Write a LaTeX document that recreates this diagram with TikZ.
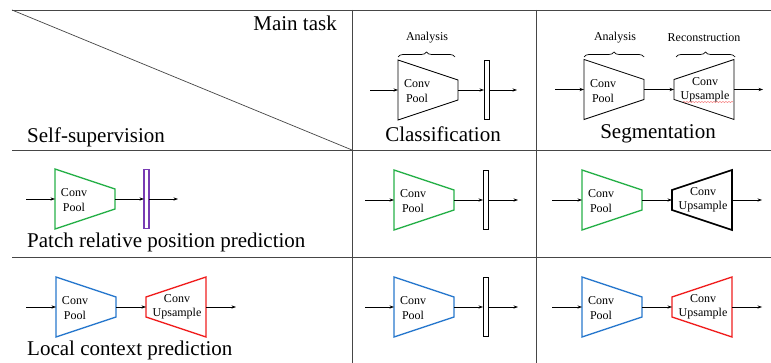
\documentclass[tikz,border=0pt]{standalone}
\usepackage{fontspec}
\setmainfont{Liberation Serif}
\usetikzlibrary{arrows.meta,decorations.pathreplacing,decorations.pathmorphing}
\definecolor{cgreen}{RGB}{38,176,72}
\definecolor{cblue}{RGB}{40,120,205}
\definecolor{cred}{RGB}{240,30,30}
\definecolor{cpurple}{RGB}{120,60,180}
\definecolor{grid}{RGB}{70,70,70}
\tikzset{
  gridline/.style={draw=grid, line width=0.9pt},
  arr/.style={-{Stealth[length=4.5pt,width=3.2pt]}, line width=0.6pt},
  big/.style={font=\fontsize{21}{24}\selectfont, inner sep=0pt},
  small/.style={font=\fontsize{12}{13}\selectfont, inner sep=0pt},
  bracestyle/.style={decorate, decoration={brace, amplitude=5pt}, line width=0.7pt},
  enc/.pic={
    \draw[line join=miter, #1] (0,-30) -- (60,-10) -- (60,10) -- (0,30) -- cycle;
    \coordinate (-in) at (0,0);
    \coordinate (-out) at (60,0);
    \node[small] (-t1) at (19,-6) {Conv};
    \node[small] (-t2) at (19,8.5) {Pool};
  },
  dec/.pic={
    \draw[line join=miter, #1] (0,-10) -- (60,-30) -- (60,30) -- (0,10) -- cycle;
    \coordinate (-in) at (0,0);
    \coordinate (-out) at (60,0);
    \node[small] (-t1) at (31,-8) {Conv};
    \node[small] (-t2) at (31,7) {Upsample};
  },
  bar/.pic={
    \draw[#1] (0,-29.5) rectangle (5,29.5);
    \coordinate (-in) at (0,0);
    \coordinate (-out) at (5,0);
  },
}
\begin{document}
\begin{tikzpicture}[x=1pt,y=-1pt]
\useasboundingbox (0,0) rectangle (771,363);

% grid
\coordinate (tl) at (12,10);
\coordinate (tr) at (771,10);
\coordinate (m1l) at (12,150);
\coordinate (m1r) at (771,150);
\coordinate (m2l) at (12,257);
\coordinate (m2r) at (771,257);
\coordinate (v1t) at (352,10);
\coordinate (v1b) at (352,363);
\coordinate (v2t) at (536,10);
\coordinate (v2b) at (536,363);
\coordinate (diag) at (352,150);
\draw[gridline] (tl) -- (tr);
\draw[gridline] (m1l) -- (m1r);
\draw[gridline] (m2l) -- (m2r);
\draw[gridline] (v1t) -- (v1b);
\draw[gridline] (v2t) -- (v2b);
\draw[gridline, line width=0.7pt] (tl) -- (diag);

% header texts
\node[big, anchor=east] (maintask) at (337,23) {Main task};
\node[big, anchor=west] (selfsup) at (27,137) {Self-supervision};
\node[big] (classif) at (443,134) {Classification};
\node[big] (segm) at (658,134) {Segmentation};
\node[big, anchor=west] (patch) at (27,242) {Patch relative position prediction};
\node[big, anchor=west] (local) at (27,350) {Local context prediction};

% ---- Row 1: classification
\pic (c1) at (398,90) {enc={draw=black, line width=0.8pt}};
\pic (c1b) at (484,90) {bar={draw=black, line width=0.8pt}};
\coordinate (c1in) at (370,90);
\coordinate (c1end) at (517,90);
\draw[arr] (c1in) -- (c1-in);
\draw[arr] (c1-out) -- (c1b-in);
\draw[arr] (c1b-out) -- (c1end);
\coordinate (br1a) at (398,57);
\coordinate (br1b) at (455,57);
\draw[bracestyle] (br1a) -- (br1b);
\node[small] (an1) at (427,38) {Analysis};

% ---- Row 1: segmentation
\pic (s1) at (584,89.5) {enc={draw=black, line width=0.8pt}};
\pic (s1d) at (674,89.5) {dec={draw=black, line width=0.8pt}};
\coordinate (s1in) at (555,89.5);
\coordinate (s1end) at (763,89.5);
\draw[arr] (s1in) -- (s1-in);
\draw[arr] (s1-out) -- (s1d-in);
\draw[arr] (s1d-out) -- (s1end);
\coordinate (br2a) at (584,57);
\coordinate (br2b) at (644,57);
\coordinate (br3a) at (676,57);
\coordinate (br3b) at (735,57);
\draw[bracestyle] (br2a) -- (br2b);
\draw[bracestyle] (br3a) -- (br3b);
\node[small] (an2) at (615,38) {Analysis};
\node[small] (rec) at (704,38) {Reconstruction};
\coordinate (sq1) at (683,102);
\coordinate (sq2) at (733,102);
\draw[cred!80, line width=0.4pt, decorate, decoration={snake, amplitude=0.5pt, segment length=3pt}] (sq1) -- (sq2);

% ---- Row 2: patch relative position
\pic (p1) at (55,199) {enc={draw=cgreen, line width=1.4pt}};
\pic (p1b) at (144,199) {bar={draw=cpurple, line width=1.1pt}};
\coordinate (p1in) at (26,199);
\coordinate (p1end) at (178,199);
\draw[arr] (p1in) -- (p1-in);
\draw[arr] (p1-out) -- (p1b-in);
\draw[arr] (p1b-out) -- (p1end);

\pic (p2) at (394,200) {enc={draw=cgreen, line width=1.4pt}};
\pic (p2b) at (483,200) {bar={draw=black, line width=0.9pt}};
\coordinate (p2in) at (365,200);
\coordinate (p2end) at (518,200);
\draw[arr] (p2in) -- (p2-in);
\draw[arr] (p2-out) -- (p2b-in);
\draw[arr] (p2b-out) -- (p2end);

\pic (p3) at (582,200) {enc={draw=cgreen, line width=1.4pt}};
\pic (p3d) at (672,200) {dec={draw=black, line width=1.6pt}};
\coordinate (p3in) at (552,200);
\coordinate (p3end) at (762,200);
\draw[arr] (p3in) -- (p3-in);
\draw[arr] (p3-out) -- (p3d-in);
\draw[arr] (p3d-out) -- (p3end);

% ---- Row 3: local context
\pic (l1) at (56,307) {enc={draw=cblue, line width=1.4pt}};
\pic (l1d) at (146,307) {dec={draw=cred, line width=1.4pt}};
\coordinate (l1in) at (26,307);
\coordinate (l1end) at (236,307);
\draw[arr] (l1in) -- (l1-in);
\draw[arr] (l1-out) -- (l1d-in);
\draw[arr] (l1d-out) -- (l1end);

\pic (l2) at (394,307) {enc={draw=cblue, line width=1.4pt}};
\pic (l2b) at (483,307) {bar={draw=black, line width=0.9pt}};
\coordinate (l2in) at (365,307);
\coordinate (l2end) at (518,307);
\draw[arr] (l2in) -- (l2-in);
\draw[arr] (l2-out) -- (l2b-in);
\draw[arr] (l2b-out) -- (l2end);

\pic (l3) at (582,307) {enc={draw=cblue, line width=1.4pt}};
\pic (l3d) at (672,307) {dec={draw=cred, line width=1.4pt}};
\coordinate (l3in) at (552,307);
\coordinate (l3end) at (762,307);
\draw[arr] (l3in) -- (l3-in);
\draw[arr] (l3-out) -- (l3d-in);
\draw[arr] (l3d-out) -- (l3end);
\end{tikzpicture}
\end{document}
